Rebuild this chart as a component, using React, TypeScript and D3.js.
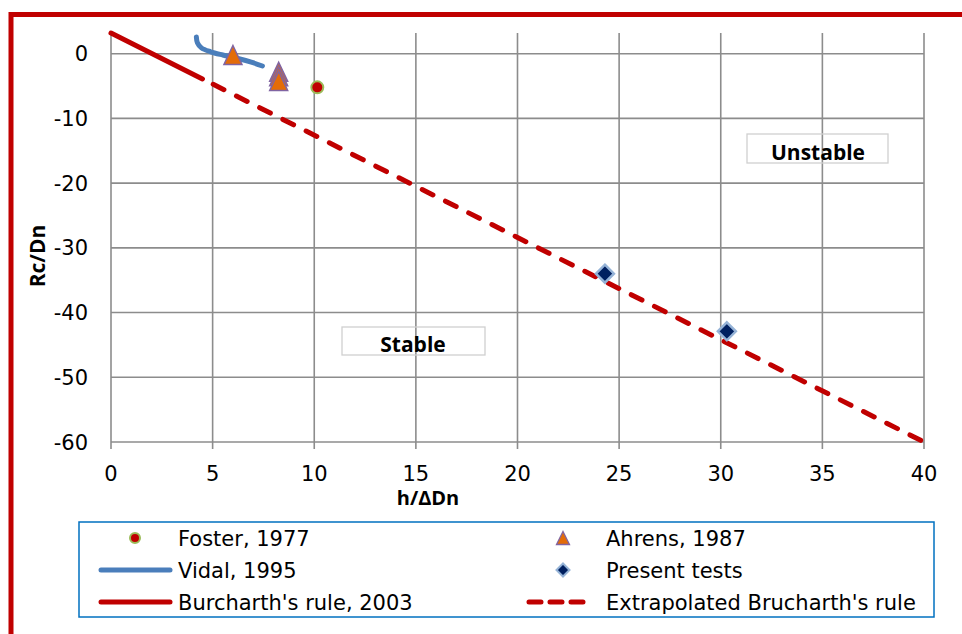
import { useEffect } from 'react';
import * as d3 from 'd3';

// data
const fosterPoints: [number, number][] = [[10.15, -5.2]];
const ahrensPoints: [number, number][] = [
  [6.0, -0.2],
  [8.25, -2.8],
  [8.25, -3.5],
  [8.25, -4.2]
];
const vidalCurve: [number, number][] = [
  [4.2, 2.6],
  [4.25, 1.7],
  [4.45, 0.9],
  [4.9, 0.3],
  [5.5, -0.2],
  [6.2, -0.7],
  [6.9, -1.3],
  [7.45, -1.9]
];
const presentTests: [number, number][] = [
  [24.3, -34.0],
  [30.3, -42.9]
];
const burcharthRule: [number, number][] = [
  [0, 3.2],
  [4.5, -3.9]
];
const burcharthExtrapolated: [number, number][] = [
  [4.5, -3.9],
  [40, -60]
];
const xTicks = [0, 5, 10, 15, 20, 25, 30, 35, 40];
const yTicks = [0, -10, -20, -30, -40, -50, -60];

const legendItems = [
  { label: 'Foster, 1977', kind: 'circle', col: 0, row: 0 },
  { label: 'Ahrens, 1987', kind: 'triangle', col: 1, row: 0 },
  { label: 'Vidal, 1995', kind: 'blue', col: 0, row: 1 },
  { label: 'Present tests', kind: 'diamond', col: 1, row: 1 },
  { label: "Burcharth's rule, 2003", kind: 'red', col: 0, row: 2 },
  { label: "Extrapolated Brucharth's rule", kind: 'dashed', col: 1, row: 2 }
];

const RED = '#C00000';
const BLUE = '#4A7EBB';
const GRID = '#8C8C8C';
const FONT = '"DejaVu Sans", sans-serif';
const BOLD = '"Open Sans", sans-serif';

function triangle(cx: number, cy: number, w: number, h: number) {
  return `M${cx},${cy - h / 2}L${cx + w / 2},${cy + h / 2}L${cx - w / 2},${cy + h / 2}Z`;
}

function diamond(cx: number, cy: number, r: number) {
  return `M${cx},${cy - r}L${cx + r},${cy}L${cx},${cy + r}L${cx - r},${cy}Z`;
}

export default function App() {
  useEffect(() => {
    document.body.style.margin = '0';
  }, []);

  const width = 962;
  const height = 634;
  const x = d3.scaleLinear().domain([0, 40]).range([111, 924]);
  const y = d3.scaleLinear().domain([-60, 3.2]).range([442, 33]);
  const curve = d3
    .line<[number, number]>()
    .x((d) => x(d[0]))
    .y((d) => y(d[1]))
    .curve(d3.curveCatmullRom);
  const straight = d3
    .line<[number, number]>()
    .x((d) => x(d[0]))
    .y((d) => y(d[1]));

  const legendCols = [
    { marker: 135, lineFrom: 101, lineTo: 170, text: 178 },
    { marker: 563, lineFrom: 529, lineTo: 588, text: 606 }
  ];
  const legendRows = [538, 570, 602];

  return (
    <svg width={width} height={height} style={{ display: 'block' }}>
      <rect x={0} y={0} width={width} height={height} fill="#fff" />
      {/* outer red frame */}
      <rect x={11} y={14.5} width={width + 20} height={height + 20} fill="none" stroke={RED} strokeWidth={5} />

      {/* grid */}
      {yTicks.map((t) => (
        <line key={`h${t}`} x1={x(0)} x2={x(40)} y1={y(t)} y2={y(t)} stroke={GRID} strokeWidth={1.6} />
      ))}
      {xTicks.map((t) => (
        <line key={`v${t}`} x1={x(t)} x2={x(t)} y1={y(3.2)} y2={y(-60) + 7} stroke={GRID} strokeWidth={1.6} />
      ))}

      {/* tick labels */}
      {yTicks.map((t) => (
        <text key={`yl${t}`} x={88} y={y(t) + 7.5} textAnchor="end" fontFamily={FONT} fontSize={21} fill="#000">
          {t}
        </text>
      ))}
      {xTicks.map((t) => (
        <text key={`xl${t}`} x={x(t)} y={481} textAnchor="middle" fontFamily={FONT} fontSize={21} fill="#000">
          {t}
        </text>
      ))}

      {/* axis titles */}
      <text x={428} y={505} textAnchor="middle" fontFamily={BOLD} fontWeight={700} fontSize={20}>
        h/ΔDn
      </text>
      <text
        transform={`translate(45,256) rotate(-90)`}
        textAnchor="middle"
        fontFamily={BOLD}
        fontWeight={700}
        fontSize={21}
      >
        Rc/Dn
      </text>

      {/* region labels */}
      <rect x={342} y={327} width={143} height={28} fill="none" stroke="#D0D0D0" strokeWidth={1.3} />
      <text x={413} y={352} textAnchor="middle" fontFamily={BOLD} fontWeight={700} fontSize={21}>
        Stable
      </text>
      <rect x={747} y={134} width={141} height={29} fill="none" stroke="#D0D0D0" strokeWidth={1.3} />
      <text x={818} y={160} textAnchor="middle" fontFamily={BOLD} fontWeight={700} fontSize={21}>
        Unstable
      </text>

      {/* Burcharth lines */}
      <path d={straight(burcharthRule) || ''} fill="none" stroke={RED} strokeWidth={5} strokeLinecap="round" />
      <path
        d={straight(burcharthExtrapolated) || ''}
        fill="none"
        stroke={RED}
        strokeWidth={5}
        strokeLinecap="round"
        strokeDasharray="12,14"
        strokeDashoffset={-12}
      />

      {/* Vidal */}
      <path d={curve(vidalCurve) || ''} fill="none" stroke={BLUE} strokeWidth={5} strokeLinecap="round" />

      {/* Ahrens */}
      {ahrensPoints.map((p, i) => (
        <path
          key={`a${i}`}
          d={triangle(x(p[0]), y(p[1]), 18, 19)}
          fill="#E36C09"
          stroke="#8064A2"
          strokeWidth={1.5}
        />
      ))}

      {/* Foster */}
      {fosterPoints.map((p, i) => (
        <circle key={`f${i}`} cx={x(p[0])} cy={y(p[1])} r={6} fill={RED} stroke="#9BBB59" strokeWidth={2} />
      ))}

      {/* Present tests */}
      {presentTests.map((p, i) => (
        <path key={`p${i}`} d={diamond(x(p[0]), y(p[1]), 9)} fill="#002060" stroke="#95B3D7" strokeWidth={2.5} />
      ))}

      {/* legend */}
      <rect x={79} y={522} width={855} height={95} fill="#fff" stroke="#0070C0" strokeWidth={1.5} />
      {legendItems.map((item) => {
        const c = legendCols[item.col];
        const cy = legendRows[item.row];
        let marker = null;
        if (item.kind === 'circle') {
          marker = <circle cx={c.marker} cy={cy} r={5} fill={RED} stroke="#9BBB59" strokeWidth={2} />;
        } else if (item.kind === 'triangle') {
          marker = <path d={triangle(c.marker, cy, 13, 13)} fill="#E36C09" stroke="#8064A2" strokeWidth={1.3} />;
        } else if (item.kind === 'diamond') {
          marker = <path d={diamond(c.marker, cy, 6.5)} fill="#002060" stroke="#95B3D7" strokeWidth={2} />;
        } else {
          const color = item.kind === 'blue' ? BLUE : RED;
          marker = (
            <line
              x1={c.lineFrom}
              x2={c.lineTo}
              y1={cy}
              y2={cy}
              stroke={color}
              strokeWidth={5}
              strokeLinecap="round"
              strokeDasharray={item.kind === 'dashed' ? '12,9' : undefined}
            />
          );
        }
        return (
          <g key={item.label}>
            {marker}
            <text x={c.text} y={cy + 7.5} fontFamily={FONT} fontSize={21} fill="#000">
              {item.label}
            </text>
          </g>
        );
      })}
    </svg>
  );
}
